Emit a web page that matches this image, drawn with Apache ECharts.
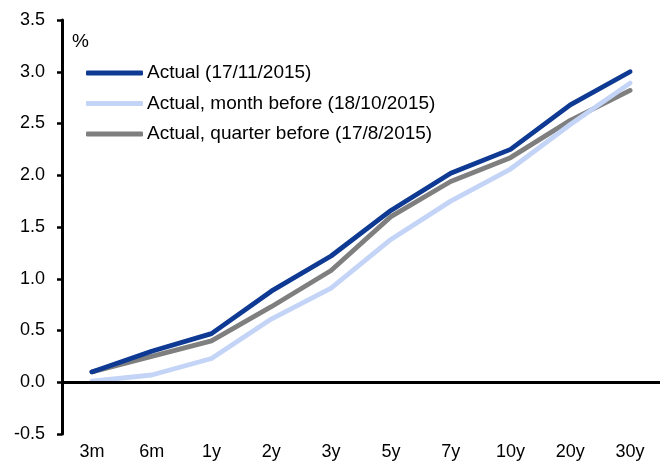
<!DOCTYPE html>
<html>
<head>
<meta charset="utf-8">
<script src="https://cdn.jsdelivr.net/npm/echarts@6/dist/echarts.min.js"></script>
<style>
  html, body { margin: 0; padding: 0; background: #fff; }
  #chart { width: 660px; height: 464px; }
</style>
</head>
<body>
<div id="chart"></div>
<script>
// Yield curve: tenors and yields (%)
const tenors = ['3m', '6m', '1y', '2y', '3y', '5y', '7y', '10y', '20y', '30y'];
const actualNov = [0.10, 0.30, 0.47, 0.88, 1.22, 1.66, 2.02, 2.25, 2.68, 3.00];
const monthBefore = [0.01, 0.07, 0.23, 0.61, 0.91, 1.38, 1.75, 2.06, 2.49, 2.89];
const quarterBefore = [0.10, 0.25, 0.40, 0.73, 1.08, 1.60, 1.94, 2.17, 2.53, 2.82];

const seriesNames = [
  'Actual (17/11/2015)',
  'Actual, month before (18/10/2015)',
  'Actual, quarter before (17/8/2015)'
];
const colors = ['#0E3A93', '#C3D4F7', '#7F7F7F'];

const font = 'Liberation Sans, Arial, sans-serif';
const chart = echarts.init(document.getElementById('chart'), null, { renderer: 'canvas' });

function lineSeries(name, data, color, extra) {
  return Object.assign({
    name: name,
    type: 'line',
    data: data,
    showSymbol: false,
    symbol: 'none',
    smooth: false,
    lineStyle: { color: color, width: 4.8, cap: 'round', join: 'round' },
    itemStyle: { color: color },
    emphasis: { disabled: true }
  }, extra || {});
}

chart.setOption({
  animation: false,
  backgroundColor: '#fff',
  textStyle: { fontFamily: font },
  grid: { left: 62, top: 20, width: 600, height: 414, containLabel: false },
  graphic: [{
    type: 'text',
    left: 72,
    top: 32,
    style: { text: '%', font: '19px ' + font, fill: '#000' }
  }],
  legend: {
    orient: 'vertical',
    left: 86,
    top: 61.5,
    padding: 0,
    itemWidth: 57,
    itemHeight: 5,
    itemGap: 7.5,
    icon: 'roundRect',
    selectedMode: false,
    textStyle: { fontSize: 19, color: '#000', fontFamily: font, lineHeight: 23, padding: [0, 0, 0, -1] },
    data: seriesNames
  },
  xAxis: {
    type: 'category',
    data: tenors,
    boundaryGap: true,
    axisLine: { show: false, onZero: false },
    axisTick: { show: false },
    axisLabel: { fontSize: 18, color: '#000', fontFamily: font, margin: 9, interval: 0 },
    splitLine: { show: false }
  },
  yAxis: {
    type: 'value',
    min: -0.5,
    max: 3.5,
    interval: 0.5,
    axisLine: { show: true, lineStyle: { color: '#000', width: 3 } },
    axisTick: { show: true, length: 5, lineStyle: { color: '#000', width: 2.5 } },
    axisLabel: {
      fontSize: 18, color: '#000', fontFamily: font, margin: 17,
      formatter: v => v.toFixed(1)
    },
    splitLine: { show: false }
  },
  series: [
    lineSeries(seriesNames[2], quarterBefore, colors[2], {
      z: 2,
      markLine: {
        silent: true,
        symbol: ['none', 'none'],
        label: { show: false },
        lineStyle: { color: '#000', width: 3, type: 'solid' },
        emphasis: { disabled: true },
        data: [{ yAxis: 0 }]
      }
    }),
    lineSeries(seriesNames[1], monthBefore, colors[1], { z: 3 }),
    lineSeries(seriesNames[0], actualNov, colors[0], { z: 4 })
  ]
});
</script>
</body>
</html>
